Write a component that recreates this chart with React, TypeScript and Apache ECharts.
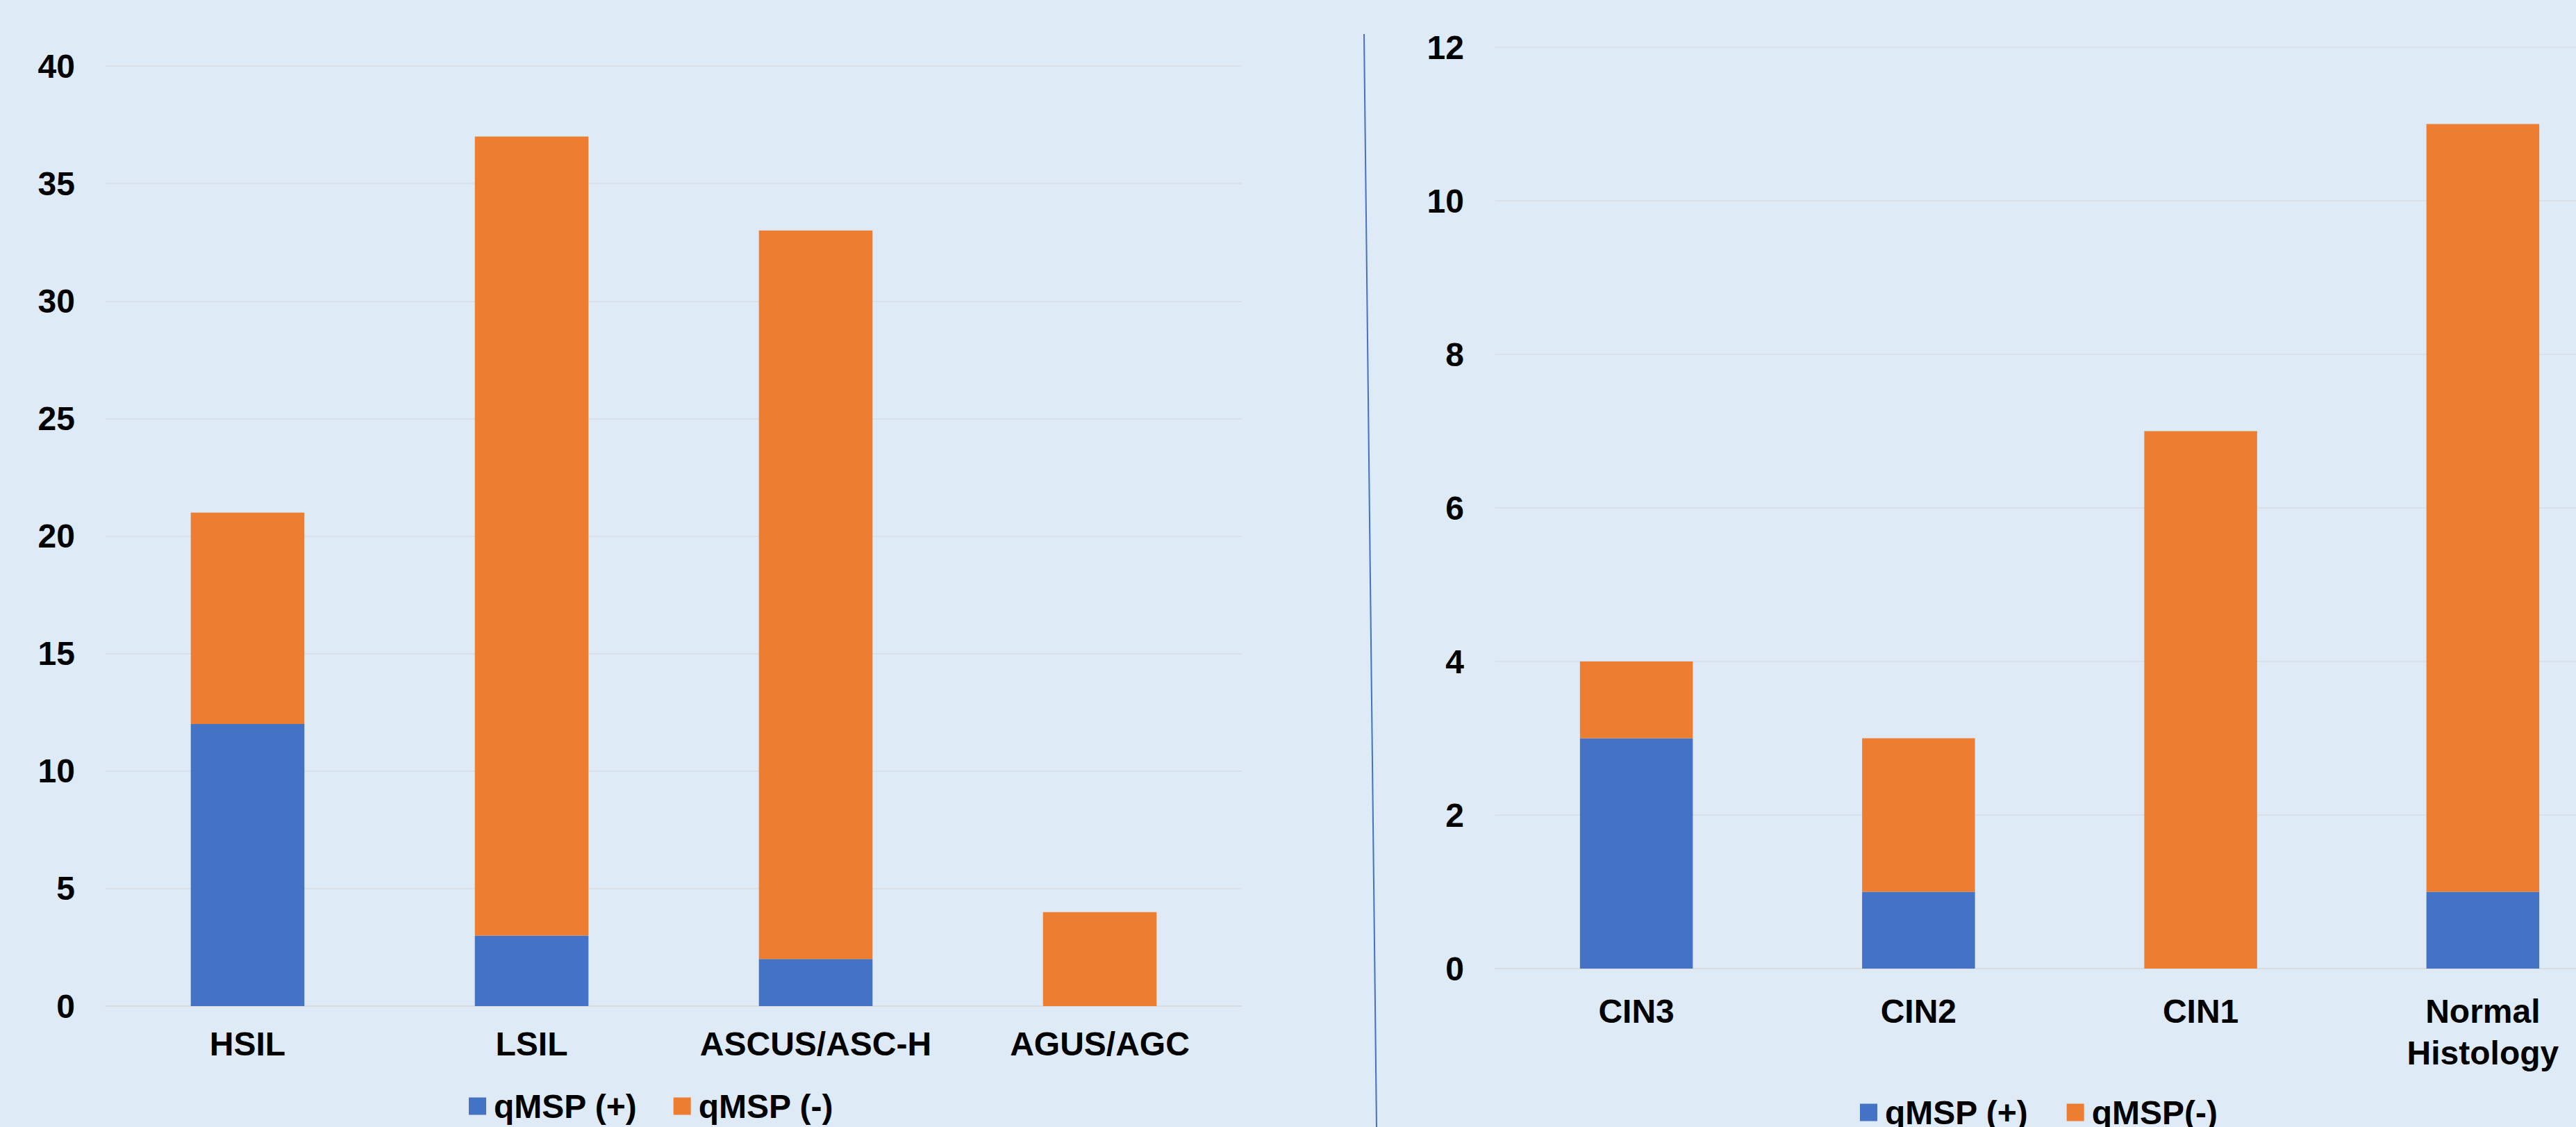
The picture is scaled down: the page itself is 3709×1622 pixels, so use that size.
import React, { useEffect, useRef } from "react";
import * as echarts from "echarts";

const leftCategories = ["HSIL", "LSIL", "ASCUS/ASC-H", "AGUS/AGC"];
const leftPositive = [12, 3, 2, 0];
const leftNegative = [9, 34, 31, 4];
const leftLegend = ["qMSP (+)", "qMSP (-)"];

const rightCategories = ["CIN3", "CIN2", "CIN1", "Normal\nHistology"];
const rightPositive = [3, 1, 0, 1];
const rightNegative = [1, 2, 7, 10];
const rightLegend = ["qMSP (+)", "qMSP(-)"];

const BLUE = "#4472C4";
const ORANGE = "#ED7D31";
const BG = "#DEEAF6";
const GRID = "#D9DDE2";
const FONT = "'Liberation Sans', Arial, sans-serif";

export default function App() {
  const ref = useRef<HTMLDivElement>(null);
  useEffect(() => {
    if (!ref.current) return;
    const chart = echarts.init(ref.current, undefined, { renderer: "svg" });
    const labelStyle = {
      fontSize: 48,
      fontWeight: "bold" as const,
      color: "#000",
      fontFamily: FONT,
    };
    chart.setOption({
      animation: false,
      backgroundColor: BG,
      grid: [
        { left: 152, top: 95, width: 1636, height: 1353 },
        { left: 2153, top: 68, width: 1625, height: 1326 },
      ],
      xAxis: [
        {
          type: "category",
          gridIndex: 0,
          data: leftCategories,
          axisLine: { lineStyle: { color: GRID, width: 2 } },
          axisTick: { show: false },
          axisLabel: { ...labelStyle, interval: 0, margin: 24, lineHeight: 60 },
        },
        {
          type: "category",
          gridIndex: 1,
          data: rightCategories,
          axisLine: { lineStyle: { color: GRID, width: 2 } },
          axisTick: { show: false },
          axisLabel: { ...labelStyle, interval: 0, margin: 31, lineHeight: 60 },
        },
      ],
      yAxis: [
        {
          type: "value",
          gridIndex: 0,
          min: 0,
          max: 40,
          interval: 5,
          axisLine: { show: false },
          axisTick: { show: false },
          splitLine: { lineStyle: { color: GRID, width: 1.5 } },
          axisLabel: { ...labelStyle, margin: 44 },
        },
        {
          type: "value",
          gridIndex: 1,
          min: 0,
          max: 12,
          interval: 2,
          axisLine: { show: false },
          axisTick: { show: false },
          splitLine: { lineStyle: { color: GRID, width: 1.5 } },
          axisLabel: { ...labelStyle, margin: 45 },
        },
      ],
      legend: [
        {
          data: leftLegend,
          left: 670,
          top: 1563,
          itemWidth: 25,
          itemHeight: 25,
          itemGap: 52,
          icon: "rect",
          textStyle: { ...labelStyle, padding: [0, 0, 0, 6] },
        },
        {
          data: rightLegend,
          left: 2673,
          top: 1572,
          itemWidth: 25,
          itemHeight: 25,
          itemGap: 55,
          icon: "rect",
          textStyle: { ...labelStyle, padding: [0, 0, 0, 6] },
        },
      ],
      series: [
        {
          name: leftLegend[0],
          type: "bar",
          xAxisIndex: 0,
          yAxisIndex: 0,
          stack: "left",
          barWidth: "40%",
          data: leftPositive,
          itemStyle: { color: BLUE },
        },
        {
          name: leftLegend[1],
          type: "bar",
          xAxisIndex: 0,
          yAxisIndex: 0,
          stack: "left",
          barWidth: "40%",
          data: leftNegative,
          itemStyle: { color: ORANGE },
        },
        {
          name: rightLegend[0],
          type: "bar",
          xAxisIndex: 1,
          yAxisIndex: 1,
          stack: "right",
          barWidth: "40%",
          data: rightPositive,
          itemStyle: { color: BLUE },
        },
        {
          name: rightLegend[1],
          type: "bar",
          xAxisIndex: 1,
          yAxisIndex: 1,
          stack: "right",
          barWidth: "40%",
          data: rightNegative,
          itemStyle: { color: ORANGE },
        },
      ],
      graphic: [
        {
          type: "line",
          shape: { x1: 1964, y1: 49, x2: 1982, y2: 1622 },
          style: { stroke: BLUE, lineWidth: 2 },
          silent: true,
        },
      ],
    });
    return () => chart.dispose();
  }, []);
  return (
    <div
      style={{
        position: "absolute",
        left: 0,
        top: 0,
        width: 3709,
        height: 1622,
        overflow: "hidden",
        background: BG,
      }}
    >
      <div ref={ref} style={{ width: 3800, height: 1622 }} />
    </div>
  );
}
